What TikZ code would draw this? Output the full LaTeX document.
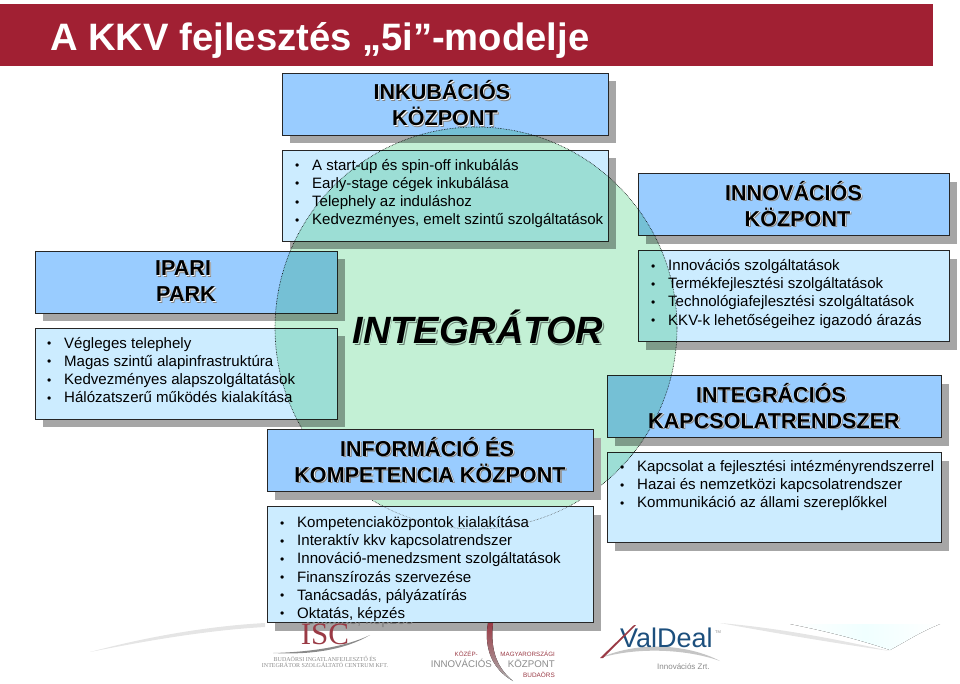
\documentclass[tikz,border=0pt]{standalone}
\usepackage{fontspec}
\setmainfont{Liberation Sans}
\newfontfamily\logoserif{Liberation Serif}
\usetikzlibrary{positioning,shadows}
\definecolor{bandred}{HTML}{A12033}
\definecolor{headblue}{HTML}{99CCFF}
\definecolor{listblue}{HTML}{CCECFF}
\definecolor{boxshadow}{HTML}{A6A6A6}
\definecolor{ringgreen}{HTML}{C3F0D5}
\definecolor{logored}{HTML}{9A3A45}
\definecolor{logonavy}{HTML}{1C4F7D}
\definecolor{logogray}{HTML}{8A8A8A}
\newcommand{\shtext}[1]{\rlap{\kern1.6pt\raisebox{-1.6pt}{\textcolor{boxshadow!80!black}{#1}}}\rlap{\kern.8pt\raisebox{-.8pt}{\textcolor{white}{#1}}}#1}
\newcommand{\li}[1]{\makebox[17pt][l]{\raisebox{.4pt}{\scalebox{.8}{\textbullet}}}#1}
\begin{document}
\begin{tikzpicture}[x=1pt,y=-1pt,node distance=15pt,
framebox/.style={draw=black!85,line width=.9pt,inner sep=0pt,outer sep=0pt,
drop shadow={shadow xshift=8pt,shadow yshift=-8pt,opacity=1,fill=boxshadow}},
headbox/.style={framebox,fill=headblue,minimum height=62pt,align=center,
font=\bfseries\fontsize{21.6}{26}\selectfont},
listbox/.style={framebox,fill=listblue},
listtext/.style={inner sep=0pt,align=left,font=\fontsize{15.05}{18.1}\selectfont},
logotext/.style={inner sep=0pt,text=logogray}]
\useasboundingbox (0,0) rectangle (960,683);
\node[fill=bandred,anchor=north west,minimum width=933pt,minimum height=62pt,inner sep=0pt] (band) at (0,4) {};
\node[anchor=base west,inner sep=0pt,text=white,font=\bfseries\fontsize{38.2}{40}\selectfont] (title) at (50,50) {A KKV fejlesztés „5i”-modelje};
% swooshes at the foot
\fill[black!10] (90,652) .. controls (150,636) and (210,626) .. (265,623) -- (265,627) .. controls (210,630) and (150,640) .. cycle;
\fill[left color=white,right color=white,middle color=cyan!6] (790,624) -- (940,624) .. controls (920,632) and (905,642) .. (890,650) .. controls (860,640) and (830,632) .. cycle;
\fill[black!10] (720,623) .. controls (780,628) and (840,640) .. (890,651) .. controls (840,644) and (780,634) .. cycle;
% boxes under the ring
\node[headbox,minimum width=326pt] (inkubhead) at (445,104) {\shtext{INKUBÁCIÓS}\hspace*{6pt}\\\shtext{KÖZPONT}};
\node[listbox,minimum width=326pt,minimum height=91pt] (inkublist) [below=15pt of inkubhead] {};
\node[listtext,below right=9pt and 13pt of inkublist.north west] (inkubtext) {\li{A start-up és spin-off inkubálás}\\\li{Early-stage cégek inkubálása}\\\li{Telephely az induláshoz}\\\li{Kedvezményes, emelt szintű szolgáltatások}};
\node[headbox,minimum width=302pt] (iparihead) at (186,282) {\shtext{IPARI}\hspace*{6pt}\\\shtext{PARK}};
\node[listbox,minimum width=302pt,minimum height=91pt] (iparilist) [below=15pt of iparihead] {};
\node[listtext,below right=9pt and 12pt of iparilist.north west] (iparitext) {\li{Végleges telephely}\\\li{Magas szintű alapinfrastruktúra}\\\li{Kedvezményes alapszolgáltatások}\\\li{Hálózatszerű működés kialakítása}};
\node[headbox,minimum width=311pt] (innovhead) at (793.5,204.5) {\shtext{INNOVÁCIÓS}\\\hspace*{8pt}\shtext{KÖZPONT}};
\node[listbox,minimum width=311pt,minimum height=91pt] (innovlist) [below=15pt of innovhead] {};
\node[listtext,below right=9pt and 13pt of innovlist.north west] (innovtext) {\li{Innovációs szolgáltatások}\\\li{Termékfejlesztési szolgáltatások}\\\li{Technológiafejlesztési szolgáltatások}\\\li{KKV-k lehetőségeihez igazodó árazás}};
\node[headbox,minimum width=334pt] (integhead) at (774,406.5) {\shtext{INTEGRÁCIÓS}\hspace*{6pt}\\\shtext{KAPCSOLATRENDSZER}};
\node[listbox,minimum width=334pt,minimum height=90pt] (integlist) [below=15pt of integhead] {};
\node[listtext,below right=8pt and 13pt of integlist.north west] (integtext) {\li{Kapcsolat a fejlesztési intézményrendszerrel}\\\li{Hazai és nemzetközi kapcsolatrendszer}\\\li{Kommunikáció az állami szereplőkkel}};
\node[inner sep=0pt,font=\bfseries\itshape\fontsize{38}{40}\selectfont] (integrator) at (478,328) {\shtext{INTEGRÁTOR}};
% the ring
\node[circle,minimum size=402pt,inner sep=0pt,fill=ringgreen,draw=black,densely dotted,line width=.6pt,blend mode=multiply] (ring) at (476,328) {};
% boxes over the ring
\node[headbox,minimum width=326pt] (infohead) at (430,460.5) {\shtext{INFORMÁCIÓ ÉS}\hspace*{6pt}\\\shtext{KOMPETENCIA KÖZPONT}};
\node[listbox,minimum width=326pt,minimum height=116pt] (infolist) [below=15pt of infohead] {};
\node[listtext,below right=10pt and 13pt of infolist.north west] (infotext) {\li{Kompetenciaközpontok kialakítása}\\\li{Interaktív kkv kapcsolatrendszer}\\\li{Innováció-menedzsment szolgáltatások}\\\li{Finanszírozás szervezése}\\\li{Tanácsadás, pályázatírás}\\\li{Oktatás, képzés}};
\begin{scope}
\clip (infolist.north west) rectangle (infolist.south east);
\draw[densely dotted,line width=.5pt,black!70] (ring.center) circle (201pt);
\end{scope}
\begin{scope}
\clip (infolist.south west) rectangle ++(334,9);
\node[listtext,anchor=west,text=black!50] (infoghost) at (305,620.5) {Oktatás, képzés};
\end{scope}
% logos
\node[inner sep=0pt,anchor=base,text=logored,font=\logoserif\fontsize{31}{31}\selectfont] (isc) at (325,644) {ISC};
\fill[logogray] (273,653) .. controls (310,655) and (345,650) .. (370,635) .. controls (345,647) and (310,652) .. cycle;
\node[logotext,font=\logoserif\fontsize{6}{7}\selectfont] (iscname) at (325,663) {\begin{tabular}{@{}c@{}}BUDAÖRSI INGATLANFEJLESZTŐ ÉS\\[-.6pt]INTEGRÁTOR SZOLGÁLTATÓ CENTRUM KFT.\end{tabular}};
\fill[top color=logored,bottom color=logogray!70] (488,623) .. controls (484,645) and (490,668) .. (513,681) .. controls (497,668) and (490,650) .. (493,623) -- cycle;
\node[logotext,anchor=base east,text=logored,font=\fontsize{6.2}{7}\selectfont] (kozep) at (478,656) {KÖZÉP-};
\node[logotext,anchor=base east,font=\fontsize{9.7}{11}\selectfont] (innovlogo) at (492,667) {INNOVÁCIÓS};
\node[logotext,anchor=base east,text=logored,font=\fontsize{6.2}{7}\selectfont] (magyar) at (555,656) {MAGYARORSZÁGI};
\node[logotext,anchor=base east,font=\fontsize{9.7}{11}\selectfont] (kozpont) at (555,667) {KÖZPONT};
\node[logotext,anchor=base east,text=logored,font=\fontsize{6.4}{7}\selectfont] (budaors) at (555,677) {BUDAÖRS};
\fill[logogray!50] (600,658) .. controls (640,640) and (690,645) .. (720,661) .. controls (690,650) and (640,646) .. cycle;
\node[inner sep=0pt,anchor=base west,text=logonavy,font=\fontsize{27}{27}\selectfont] (valdeal) at (620,647) {ValDeal};
\fill[logored] (600,658) -- (634,625) -- (636,625) -- (603,658) -- cycle;
\node[logotext,anchor=base west,font=\fontsize{4}{4}\selectfont] (tm) at (715,633) {TM};
\node[logotext,anchor=base west,font=\fontsize{8}{9}\selectfont] (valzrt) at (657,669) {Innovációs Zrt.};
\end{tikzpicture}
\end{document}
